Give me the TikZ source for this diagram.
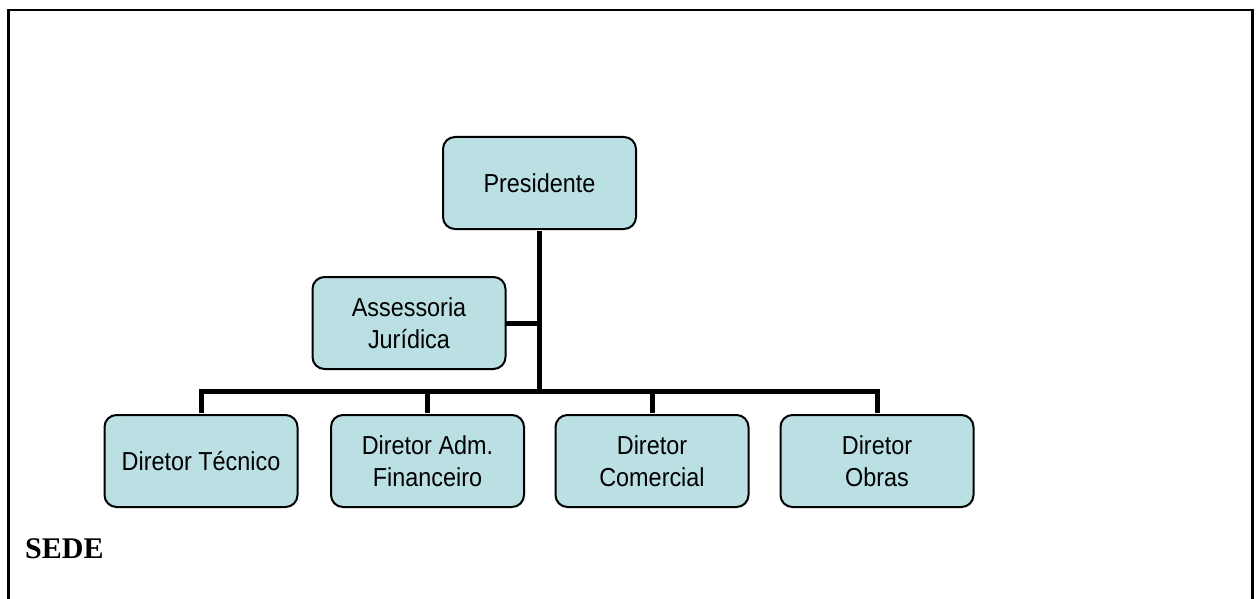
\documentclass[tikz,border=0pt]{standalone}
\usepackage{fontspec}
\setmainfont{Liberation Serif}
\newfontfamily\boxfont{Liberation Sans}[FakeStretch=0.9]
\definecolor{boxfill}{RGB}{187,224,227}
\tikzset{
  orgbox/.style={draw=black, line width=2pt, fill=boxfill, rounded corners=12pt,
    minimum width=193pt, minimum height=92pt, inner sep=0pt, align=center,
    font=\boxfont\fontsize{26}{32.5}\selectfont},
  link/.style={line width=5pt, line cap=butt},
  frame/.style={line width=2.5pt}
}
\begin{document}
\begin{tikzpicture}[x=1pt,y=-1pt]
\useasboundingbox (0,0) rectangle (1256,599);
\coordinate (fbl) at (8.5,610);
\coordinate (ftl) at (8.5,10);
\coordinate (ftr) at (1252.5,10);
\coordinate (fbr) at (1252.5,610);
\draw[frame] (fbl) -- (ftl) -- (ftr) -- (fbr);

\node[orgbox] (pres) at (539.5,183) {Presidente};
\node[orgbox] (ass) at (409,323) {Assessoria\\Jurídica};
\node[orgbox] (d1) at (201,461) {Diretor Técnico};
\node[orgbox] (d2) at (427.5,461) {Diretor Adm.\\Financeiro};
\node[orgbox] (d3) at (652,461) {Diretor\\Comercial};
\node[orgbox] (d4) at (877,461) {Diretor\\Obras};

\coordinate (bus) at (539.5,391);
\coordinate (asj) at (539.5,323);
\coordinate (b1) at (201,391);
\coordinate (b4) at (877,391);

\draw[link] ([yshift=-1pt]pres.south) -- (bus);
\draw[link] ([xshift=-1pt]ass.east) -- (asj);
\draw[link, line cap=rect] (b1) -- (b4);
\draw[link] (b1) -- ([yshift=1pt]d1.north);
\draw[link] (d2.north |- bus) -- ([yshift=1pt]d2.north);
\draw[link] (d3.north |- bus) -- ([yshift=1pt]d3.north);
\draw[link] (b4) -- ([yshift=1pt]d4.north);

\node[anchor=base west, inner sep=0pt, font=\bfseries\fontsize{30}{36}\selectfont] (sede) at (25,558) {SEDE};
\end{tikzpicture}
\end{document}
